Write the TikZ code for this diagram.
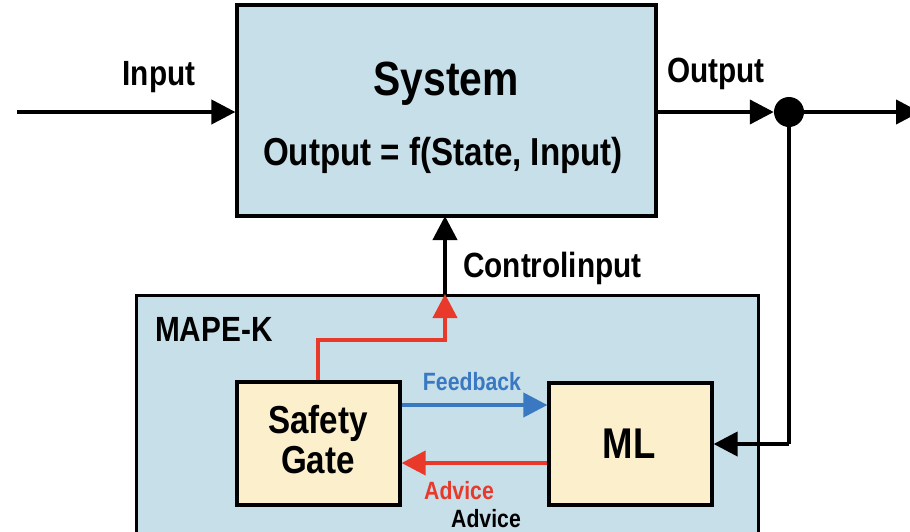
\documentclass[tikz,border=0pt]{standalone}
\usepackage{fontspec}
\setmainfont{Liberation Sans}[FakeStretch=0.85]
\usetikzlibrary{arrows.meta}
\definecolor{sysblue}{HTML}{C6DFE8}
\definecolor{gateyellow}{HTML}{FCEFCB}
\definecolor{advred}{HTML}{E8392B}
\definecolor{fbblue}{HTML}{3A78C2}
\tikzset{
  block/.style={draw=black, line width=3.2pt, rectangle, inner sep=0pt},
  bluebox/.style={block, fill=sysblue},
  yellowbox/.style={block, fill=gateyellow},
  wire/.style={line width=4pt, -{Triangle[length=24pt,width=24pt]}},
  plainwire/.style={line width=4pt},
  txt/.style={inner sep=0pt, anchor=base},
  lbl/.style={txt, font=\bfseries\fontsize{35}{40}\selectfont},
  boxlbl/.style={txt, font=\bfseries\fontsize{39}{44}\selectfont},
  smalllbl/.style={txt, font=\bfseries\fontsize{25}{30}\selectfont},
}
\begin{document}
\begin{tikzpicture}[x=1pt, y=-1pt]
\useasboundingbox (0,0) rectangle (910,531);
\clip (0,0) rectangle (910,531);

% plant
\node[bluebox, minimum width=419pt, minimum height=211pt] (sys) at (446.5,110.5) {};
\node[txt, font=\bfseries\fontsize{48}{54}\selectfont] (systitle) at (446,95) {System};
\node[boxlbl] (sysfun) at (443,165) {Output = f(State, Input)};

% controller
\node[bluebox, minimum width=622pt, minimum height=260pt, anchor=north west] (mape) at (135,294) {};
\node[lbl, anchor=base west] (mapelbl) at (155,341) {MAPE-K};
\node[yellowbox, minimum width=163pt, minimum height=123pt] (gate) at (318.5,443.5) {};
\node[boxlbl] (gatel1) at (318,433) {Safety};
\node[boxlbl] (gatel2) at (318,473) {Gate};
\node[yellowbox, minimum width=163pt, minimum height=122pt] (ml) at (630.5,444) {};
\node[txt, font=\bfseries\fontsize{43}{48}\selectfont] (mllbl) at (629,458) {ML};

% branch point
\node[circle, fill=black, minimum size=30pt, inner sep=0pt] (dot) at (789,112) {};
\coordinate (inStart) at (17,112);
\coordinate (outEnd) at (920,112);
\coordinate (ctrlTop) at (445,216);
\coordinate (ctrlBot) at (445,294);
\coordinate (fbCorner) at (789,444);
\coordinate (gateUp) at (318,340);
\coordinate (gateRight) at (445,340);

% signal paths
\draw[wire] (inStart) -- (sys.west |- inStart);
\draw[wire] (sys.east |- dot) -- (dot.west);
\draw[wire] (dot.east) -- (outEnd);
\draw[plainwire] (dot.south) -- (fbCorner);
\draw[wire] (fbCorner) -- (ml.east |- fbCorner);
\draw[wire] (ctrlBot) -- (ctrlTop);
\draw[wire, advred] (gate.north -| gateUp) -- (gateUp) -- (gateRight) -- (ctrlBot);
\draw[wire, fbblue] (gate.east |- 0,405) -- (ml.west |- 0,405);
\draw[wire, advred] (ml.west |- 0,463) -- (gate.east |- 0,463);

% labels
\node[lbl] (inlbl) at (159,85) {Input};
\node[lbl] (outlbl) at (716,82) {Output};
\node[lbl, anchor=base west] (ctrllbl) at (463,277) {Controlinput};
\node[smalllbl, text=fbblue] (fblbl) at (472,390) {Feedback};
\node[smalllbl, text=advred] (advlbl) at (459,499) {Advice};
\node[smalllbl] (advlbl2) at (486,527) {Advice};
\end{tikzpicture}
\end{document}
